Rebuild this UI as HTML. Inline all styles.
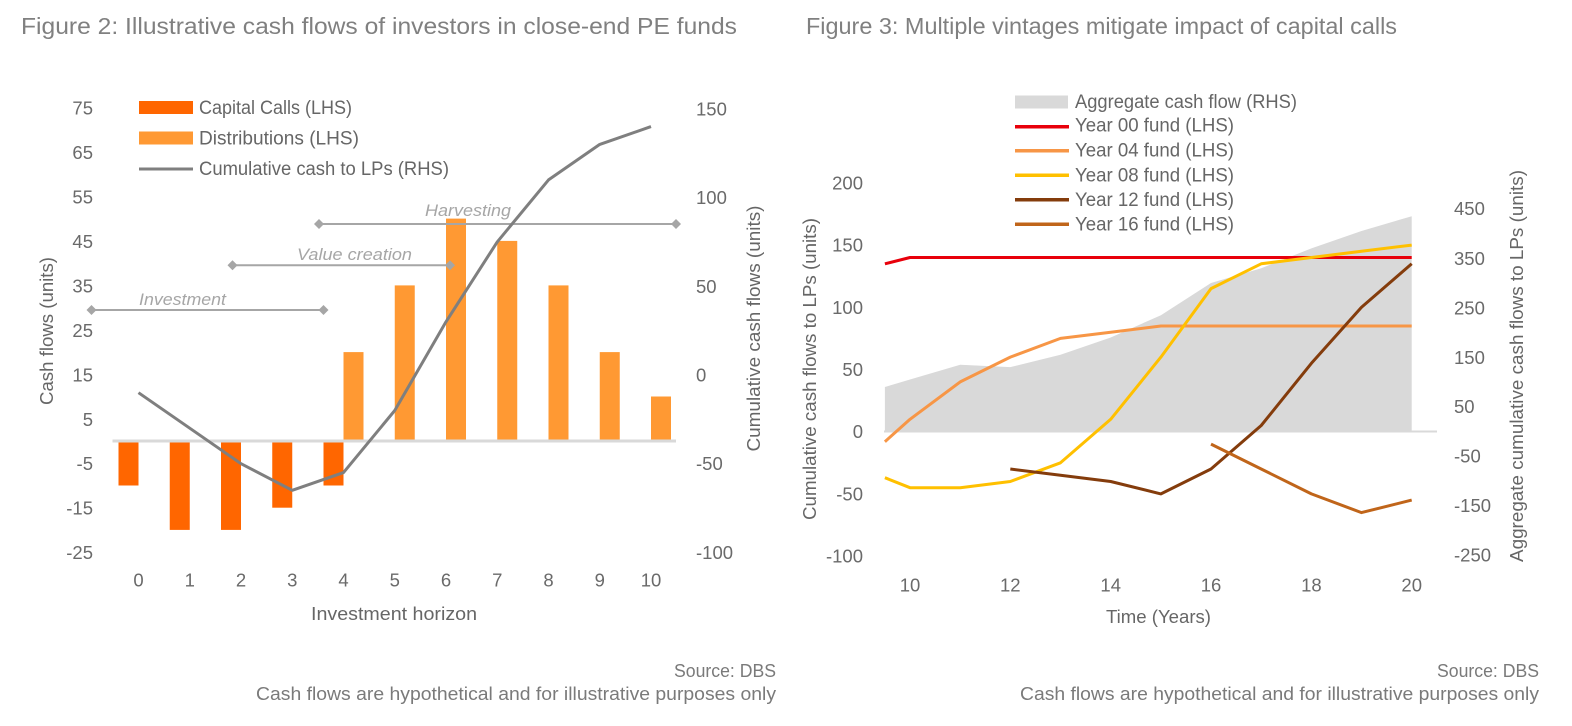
<!DOCTYPE html>
<html>
<head>
<meta charset="utf-8">
<style>
  html, body { margin: 0; padding: 0; background: #ffffff; }
  svg { display: block; }
  text { font-family: "Liberation Sans", sans-serif; }
</style>
</head>
<body>
<svg width="1572" height="726" viewBox="0 0 1572 726" xmlns="http://www.w3.org/2000/svg">
  <rect x="0" y="0" width="1572" height="726" fill="#ffffff"/>

  <!-- Titles -->
  <text x="21" y="34" font-size="23" fill="#808080" textLength="716" lengthAdjust="spacingAndGlyphs">Figure 2: Illustrative cash flows of investors in close-end PE funds</text>
  <text x="806" y="34" font-size="23" fill="#808080" textLength="591" lengthAdjust="spacingAndGlyphs">Figure 3: Multiple vintages mitigate impact of capital calls</text>

  <!-- ================= LEFT CHART ================= -->
  <!-- Capital call bars -->
  <g fill="#ff6600">
    <rect x="118.5" y="441" width="20" height="44.5"/>
    <rect x="169.75" y="441" width="20" height="88.9"/>
    <rect x="221" y="441" width="20" height="88.9"/>
    <rect x="272.25" y="441" width="20" height="66.7"/>
    <rect x="323.5" y="441" width="20" height="44.5"/>
  </g>
  <!-- Distribution bars -->
  <g fill="#ff9933">
    <rect x="343.5" y="352.1" width="20" height="88.9"/>
    <rect x="394.75" y="285.4" width="20" height="155.6"/>
    <rect x="446" y="218.6" width="20" height="222.4"/>
    <rect x="497.25" y="240.9" width="20" height="200.1"/>
    <rect x="548.5" y="285.4" width="20" height="155.6"/>
    <rect x="599.75" y="352.1" width="20" height="88.9"/>
    <rect x="651" y="396.5" width="20" height="44.5"/>
  </g>
  <!-- zero line -->
  <line x1="112.5" y1="441" x2="676" y2="441" stroke="#d9d9d9" stroke-width="3"/>

  <!-- Annotations -->
  <g stroke="#a6a6a6" stroke-width="2" fill="none">
    <line x1="91.5" y1="310" x2="323.5" y2="310"/>
    <line x1="232.5" y1="265.3" x2="450" y2="265.3"/>
    <line x1="319" y1="224" x2="676" y2="224"/>
  </g>
  <g fill="#a6a6a6">
    <polygon points="91.5,305 96.5,310 91.5,315 86.5,310"/>
    <polygon points="323.5,305 328.5,310 323.5,315 318.5,310"/>
    <polygon points="232.5,260.3 237.5,265.3 232.5,270.3 227.5,265.3"/>
    <polygon points="450,260.3 455,265.3 450,270.3 445,265.3"/>
    <polygon points="319,219 324,224 319,229 314,224"/>
    <polygon points="676,219 681,224 676,229 671,224"/>
  </g>
  <g fill="#a6a6a6" font-size="17" font-style="italic">
    <text x="139" y="305" textLength="87" lengthAdjust="spacingAndGlyphs">Investment</text>
    <text x="297" y="260" textLength="115" lengthAdjust="spacingAndGlyphs">Value creation</text>
    <text x="425" y="216" textLength="86" lengthAdjust="spacingAndGlyphs">Harvesting</text>
  </g>

  <!-- Cumulative line -->
  <polyline fill="none" stroke="#7f7f7f" stroke-width="3" stroke-linejoin="round"
    points="138.5,392.7 189.75,428.2 241,463.7 292.25,490.3 343.5,472.6 394.75,410.5 446,321.8 497.25,241.9 548.5,179.9 599.75,144.4 651,126.6"/>

  <!-- Legend left -->
  <rect x="139" y="101" width="54" height="13" fill="#ff6600"/>
  <rect x="139" y="131.5" width="54" height="13" fill="#ff9933"/>
  <line x1="139" y1="169" x2="193" y2="169" stroke="#7f7f7f" stroke-width="3"/>
  <g font-size="19" fill="#666666">
    <text x="199" y="114" textLength="153" lengthAdjust="spacingAndGlyphs">Capital Calls (LHS)</text>
    <text x="199" y="144.5" textLength="160" lengthAdjust="spacingAndGlyphs">Distributions (LHS)</text>
    <text x="199" y="175" textLength="250" lengthAdjust="spacingAndGlyphs">Cumulative cash to LPs (RHS)</text>
  </g>

  <!-- Left LHS ticks -->
  <g font-size="18.5" fill="#6a6a6a" text-anchor="end">
    <text x="93" y="114.5">75</text>
    <text x="93" y="158.9">65</text>
    <text x="93" y="203.4">55</text>
    <text x="93" y="247.9">45</text>
    <text x="93" y="292.4">35</text>
    <text x="93" y="336.8">25</text>
    <text x="93" y="381.3">15</text>
    <text x="93" y="425.8">5</text>
    <text x="93" y="470.2">-5</text>
    <text x="93" y="514.7">-15</text>
    <text x="93" y="559.2">-25</text>
  </g>
  <!-- Left RHS ticks -->
  <g font-size="18.5" fill="#6a6a6a">
    <text x="696" y="115.4">150</text>
    <text x="696" y="204.1">100</text>
    <text x="696" y="292.8">50</text>
    <text x="696" y="381.5">0</text>
    <text x="696" y="470.2">-50</text>
    <text x="696" y="558.9">-100</text>
  </g>
  <!-- Left X ticks -->
  <g font-size="18.5" fill="#6a6a6a" text-anchor="middle">
    <text x="138.5" y="586.5">0</text>
    <text x="189.75" y="586.5">1</text>
    <text x="241" y="586.5">2</text>
    <text x="292.25" y="586.5">3</text>
    <text x="343.5" y="586.5">4</text>
    <text x="394.75" y="586.5">5</text>
    <text x="446" y="586.5">6</text>
    <text x="497.25" y="586.5">7</text>
    <text x="548.5" y="586.5">8</text>
    <text x="599.75" y="586.5">9</text>
    <text x="651" y="586.5">10</text>
  </g>
  <text x="311" y="620" font-size="18" fill="#666666" textLength="166" lengthAdjust="spacingAndGlyphs">Investment horizon</text>
  <text transform="translate(53,331) rotate(-90)" font-size="18" fill="#666666" text-anchor="middle" textLength="148" lengthAdjust="spacingAndGlyphs">Cash flows (units)</text>
  <text transform="translate(760,328.5) rotate(-90)" font-size="18" fill="#666666" text-anchor="middle" textLength="246" lengthAdjust="spacingAndGlyphs">Cumulative cash flows (units)</text>

  <!-- Left footer -->
  <text x="674" y="677" font-size="18" fill="#7a7a7a" textLength="102" lengthAdjust="spacingAndGlyphs">Source: DBS</text>
  <text x="256" y="700" font-size="18" fill="#7a7a7a" textLength="520" lengthAdjust="spacingAndGlyphs">Cash flows are hypothetical and for illustrative purposes only</text>

  <!-- ================= RIGHT CHART ================= -->
  <!-- Aggregate area -->
  <polygon fill="#d9d9d9" points="884.9,431.5 884.9,387.0 910,379.5 960.2,364.7 1010.3,367.15 1060.5,354.8 1110.7,337.5 1160.9,315.2 1211,283.0 1261.2,268.2 1311.4,248.4 1361.5,231.0 1411.7,216.2 1411.7,431.5"/>
  <line x1="884" y1="431.5" x2="1437" y2="431.5" stroke="#d9d9d9" stroke-width="2"/>

  <g fill="none" stroke-width="3" stroke-linejoin="round">
    <polyline stroke="#e8000b" points="884.9,263.8 910,257.5 1411.7,257.5"/>
    <polyline stroke="#f79646" points="884.9,441.7 910,419.3 960.2,381.9 1010.3,357.1 1060.5,338.4 1110.7,332.2 1160.9,326.0 1211,326.0 1261.2,326.0 1311.4,326.0 1361.5,326.0 1411.7,326.0"/>
    <polyline stroke="#ffc000" points="884.9,477.7 910,487.7 960.2,487.7 1010.3,481.5 1060.5,462.8 1110.7,419.3 1160.9,357.1 1211,288.6 1261.2,263.8 1311.4,257.5 1361.5,251.3 1411.7,245.1"/>
    <polyline stroke="#843c0c" points="1010.3,469.0 1060.5,475.2 1110.7,481.5 1160.9,493.9 1211,469.0 1261.2,425.5 1311.4,363.3 1361.5,307.3 1411.7,263.8"/>
    <polyline stroke="#c0651a" points="1211,444.1 1261.2,469.0 1311.4,493.9 1361.5,512.6 1411.7,500.1"/>
  </g>

  <!-- Legend right -->
  <rect x="1015" y="95.5" width="53" height="13" fill="#d9d9d9"/>
  <g stroke-width="3.5">
    <line x1="1015" y1="126.7" x2="1069" y2="126.7" stroke="#e8000b"/>
    <line x1="1015" y1="150.7" x2="1069" y2="150.7" stroke="#f79646"/>
    <line x1="1015" y1="175.3" x2="1069" y2="175.3" stroke="#ffc000"/>
    <line x1="1015" y1="199.7" x2="1069" y2="199.7" stroke="#843c0c"/>
    <line x1="1015" y1="224.3" x2="1069" y2="224.3" stroke="#c0651a"/>
  </g>
  <g font-size="19" fill="#666666">
    <text x="1075" y="108" textLength="222" lengthAdjust="spacingAndGlyphs">Aggregate cash flow (RHS)</text>
    <text x="1075" y="131.5" textLength="159" lengthAdjust="spacingAndGlyphs">Year 00 fund (LHS)</text>
    <text x="1075" y="156.5" textLength="159" lengthAdjust="spacingAndGlyphs">Year 04 fund (LHS)</text>
    <text x="1075" y="181.5" textLength="159" lengthAdjust="spacingAndGlyphs">Year 08 fund (LHS)</text>
    <text x="1075" y="206" textLength="159" lengthAdjust="spacingAndGlyphs">Year 12 fund (LHS)</text>
    <text x="1075" y="230.5" textLength="159" lengthAdjust="spacingAndGlyphs">Year 16 fund (LHS)</text>
  </g>

  <!-- Right LHS ticks -->
  <g font-size="18.5" fill="#6a6a6a" text-anchor="end">
    <text x="863" y="189.4">200</text>
    <text x="863" y="251.6">150</text>
    <text x="863" y="313.8">100</text>
    <text x="863" y="376">50</text>
    <text x="863" y="438.2">0</text>
    <text x="863" y="500.4">-50</text>
    <text x="863" y="562.6">-100</text>
  </g>
  <!-- Right RHS ticks -->
  <g font-size="18.5" fill="#6a6a6a">
    <text x="1454" y="215.2">450</text>
    <text x="1454" y="264.8">350</text>
    <text x="1454" y="314.3">250</text>
    <text x="1454" y="363.8">150</text>
    <text x="1454" y="413.2">50</text>
    <text x="1454" y="462.7">-50</text>
    <text x="1454" y="512.2">-150</text>
    <text x="1454" y="561.7">-250</text>
  </g>
  <!-- Right X ticks -->
  <g font-size="18.5" fill="#6a6a6a" text-anchor="middle">
    <text x="910" y="591.5">10</text>
    <text x="1010.3" y="591.5">12</text>
    <text x="1110.7" y="591.5">14</text>
    <text x="1211" y="591.5">16</text>
    <text x="1311.4" y="591.5">18</text>
    <text x="1411.7" y="591.5">20</text>
  </g>
  <text x="1106" y="623" font-size="18" fill="#666666" textLength="105" lengthAdjust="spacingAndGlyphs">Time (Years)</text>
  <text transform="translate(816,369) rotate(-90)" font-size="18" fill="#666666" text-anchor="middle" textLength="302" lengthAdjust="spacingAndGlyphs">Cumulative cash flows to LPs (units)</text>
  <text transform="translate(1523,366) rotate(-90)" font-size="18" fill="#666666" text-anchor="middle" textLength="392" lengthAdjust="spacingAndGlyphs">Aggregate cumulative cash flows to LPs (units)</text>

  <!-- Right footer -->
  <text x="1437" y="677" font-size="18" fill="#7a7a7a" textLength="102" lengthAdjust="spacingAndGlyphs">Source: DBS</text>
  <text x="1020" y="700" font-size="18" fill="#7a7a7a" textLength="519" lengthAdjust="spacingAndGlyphs">Cash flows are hypothetical and for illustrative purposes only</text>
</svg>
</body>
</html>
